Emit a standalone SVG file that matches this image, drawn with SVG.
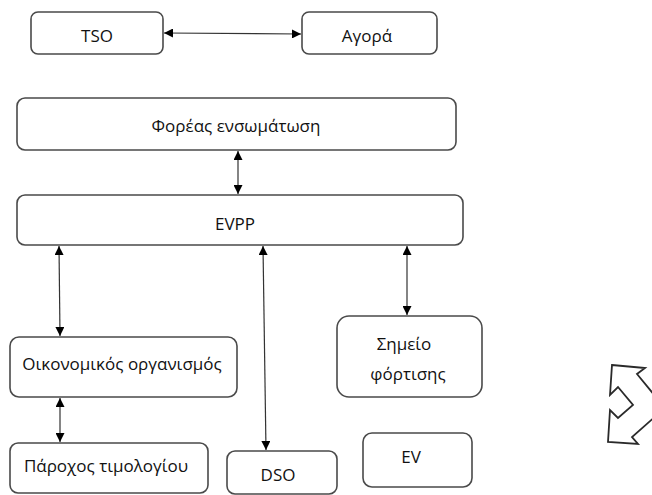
<svg xmlns="http://www.w3.org/2000/svg" width="652" height="495" viewBox="0 0 652 495">
  <style>
    .box { fill: #ffffff; stroke: #4a4a4a; stroke-width: 1.6; }
    .lbl { font-family: "Open Sans", "Noto Sans", "Liberation Sans", sans-serif; font-size: 17px; fill: #111111; text-anchor: middle; }
    .conn { stroke: #333333; stroke-width: 1.2; fill: none; marker-start: url(#head); marker-end: url(#head); }
    .bent { fill: #ffffff; stroke: #2a2a2a; stroke-width: 1.8; stroke-linejoin: miter; }
  </style>
  <defs>
    <marker id="head" viewBox="0 0 10 10" refX="10" refY="5" markerWidth="10" markerHeight="9" markerUnits="userSpaceOnUse" orient="auto-start-reverse">
      <path d="M0,0 L10,5 L0,10 Z" fill="#000000"/>
    </marker>
  </defs>
  <rect width="652" height="495" fill="#ffffff"/>

  <g id="connectors">
    <line class="conn" x1="164" y1="33" x2="301" y2="34"/>
    <line class="conn" x1="238" y1="151" x2="238" y2="194"/>
    <line class="conn" x1="59" y1="246" x2="60" y2="336"/>
    <line class="conn" x1="60" y1="398" x2="60" y2="442"/>
    <line class="conn" x1="263" y1="246" x2="266" y2="450"/>
    <line class="conn" x1="407" y1="246" x2="407" y2="315"/>
  </g>

  <g id="tso">
    <rect class="box" x="31" y="12" width="132" height="42" rx="7"/>
    <text class="lbl" x="97" y="42">TSO</text>
  </g>
  <g id="agora">
    <rect class="box" x="302" y="12" width="135" height="42" rx="7"/>
    <text class="lbl" x="367" y="42">Αγορά</text>
  </g>
  <g id="foreas">
    <rect class="box" x="17" y="98" width="439" height="52" rx="8"/>
    <text class="lbl" x="236" y="132">Φορέας ενσωμάτωση</text>
  </g>
  <g id="evpp">
    <rect class="box" x="17" y="195" width="446" height="50" rx="8"/>
    <text class="lbl" x="235" y="230">EVPP</text>
  </g>
  <g id="oikonomikos">
    <rect class="box" x="10" y="337" width="227" height="60" rx="9"/>
    <text class="lbl" x="122" y="370">Οικονομικός οργανισμός</text>
  </g>
  <g id="parochos">
    <rect class="box" x="10" y="443" width="198" height="50" rx="8"/>
    <text class="lbl" x="106" y="472">Πάροχος τιμολογίου</text>
  </g>
  <g id="dso">
    <rect class="box" x="227" y="451" width="110" height="43" rx="8"/>
    <text class="lbl" x="278" y="481">DSO</text>
  </g>
  <g id="simeio">
    <rect class="box" x="337" y="316" width="145" height="81" rx="12"/>
    <text class="lbl" x="404" y="350">Σημείο</text>
    <text class="lbl" x="408" y="380">φόρτισης</text>
  </g>
  <g id="ev">
    <rect class="box" x="363" y="433" width="109" height="54" rx="9"/>
    <text class="lbl" x="411" y="463">EV</text>
  </g>

  <!-- bent double-headed block arrow between charging point and EV -->
  <polygon class="bent" points="612,365 645,368 637,374 665,408 632,437 638,444 608,442 610,410 618,418 633,405 618,387 610,395"/>
</svg>
